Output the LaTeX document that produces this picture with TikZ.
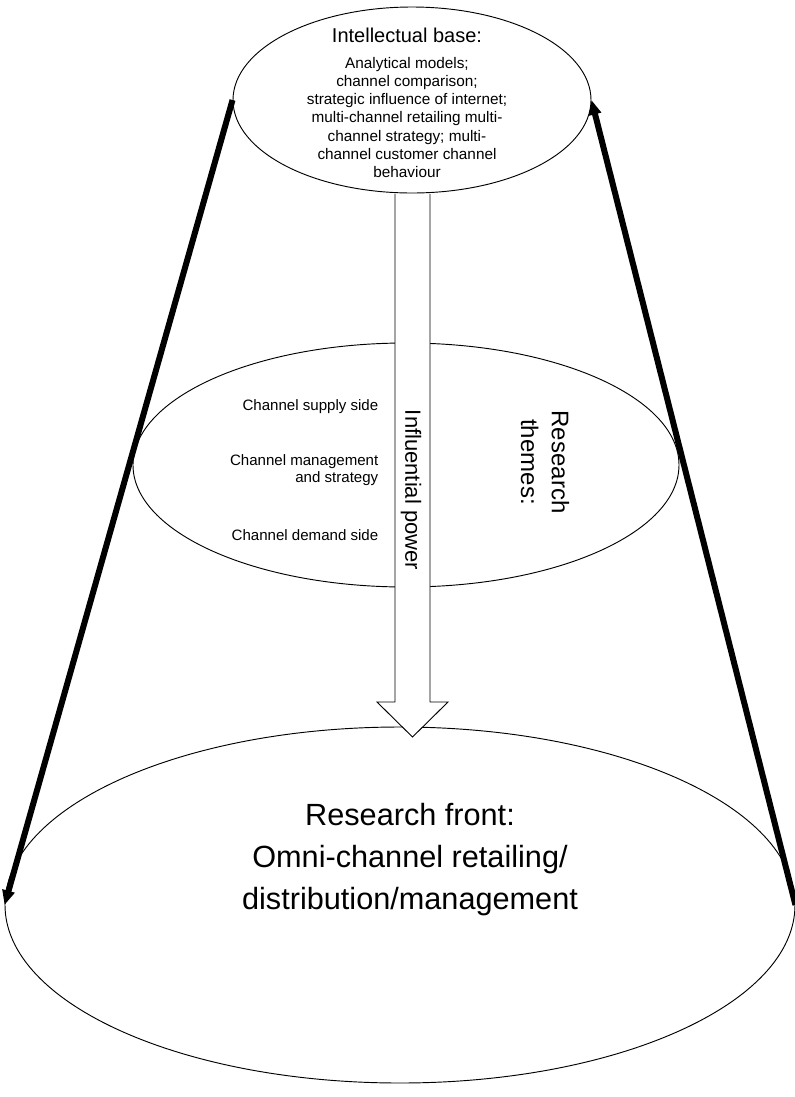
\documentclass[tikz,border=0pt]{standalone}
\usepackage{fontspec}
\setmainfont{Liberation Sans}
\usetikzlibrary{shapes.geometric,arrows.meta}
\tikzset{
  oval/.style={draw,ellipse,inner sep=0pt,line width=0.7pt},
  themelabel/.style={align=right,anchor=east,font=\fontsize{11.3}{13.2}\selectfont},
  coneside/.style={line width=4.5pt,-{Triangle[length=11pt,width=9pt]}},
}
\begin{document}
\begin{tikzpicture}[x=0.75pt,y=-0.75pt]
\useasboundingbox (0,0) rectangle (794,1097);
% levels of the cone
\node[oval,minimum width=592.5pt,minimum height=267pt] (front) at (400,905) {};
\node[oval,minimum width=409.5pt,minimum height=183pt] (themes) at (406,465) {};
\draw[line width=0.7pt,fill=white] (395,194) -- (395,702) -- (377,702) -- (412.5,737)
  -- (448,702) -- (430,702) -- (430,194);
\node[oval,minimum width=268.5pt,minimum height=139.5pt] (base) at (412,100) {};
% texts
\node[font=\fontsize{15}{18}\selectfont] (basetitle) at (407,35) {Intellectual base:};
\node[align=center,font=\fontsize{11.5}{13.6}\selectfont] (baselist) at (407,117.5)
  {Analytical models;\\channel comparison;\\strategic influence of internet;\\
   multi-channel retailing multi-\\channel strategy; multi-\\channel customer channel\\behaviour};
\node[themelabel] (supply) at (383,407) {Channel supply side};
\node[themelabel] (manage) at (383,470) {Channel management\\and strategy};
\node[themelabel] (demand) at (383,535) {Channel demand side};
\node[rotate=-90,font=\fontsize{16.5}{20}\selectfont] (power) at (411,490) {Influential power};
\node[rotate=-90,align=center,font=\fontsize{18}{23}\selectfont] (research) at (545,462)
  {Research\\themes:};
\node[align=center,font=\fontsize{23}{31.5}\selectfont] (fronttext) at (410,860)
  {Research front:\\Omni-channel retailing/\\distribution/management};
% arrows along the sides
\draw[coneside] (base.west) -- (front.west);
\draw[coneside] (front.east) -- (base.east);
\end{tikzpicture}
\end{document}
